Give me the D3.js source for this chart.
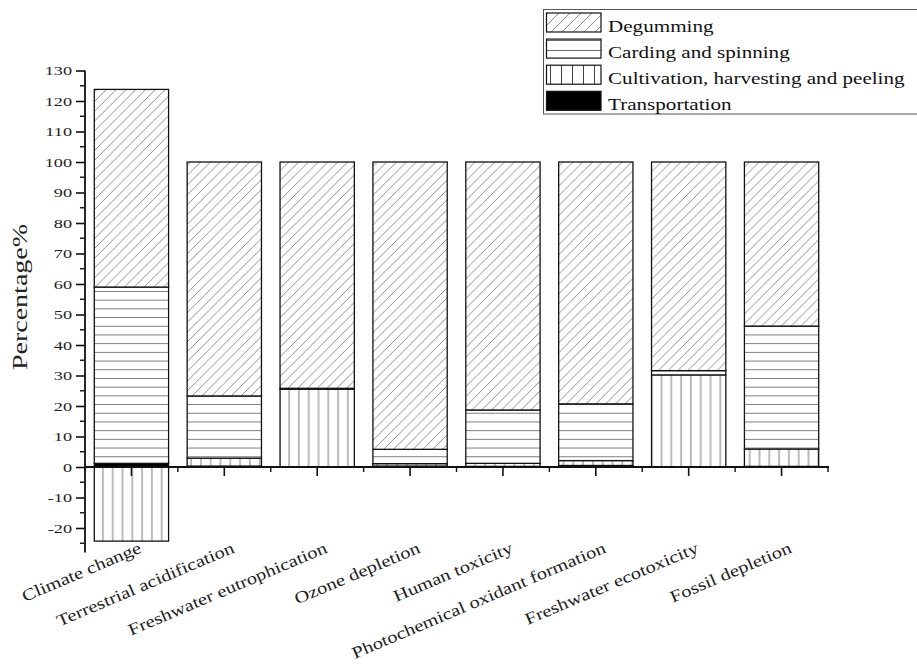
<!DOCTYPE html>
<html><head><meta charset="utf-8">
<script src="https://cdn.jsdelivr.net/npm/d3@7"></script>
<style>body{margin:0;background:#fff}svg{display:block}</style>
</head><body>
<svg id="c" width="917" height="666"></svg>
<script>
const categories = ["Climate change","Terrestrial acidification","Freshwater eutrophication","Ozone depletion","Human toxicity","Photochemical oxidant formation","Freshwater ecotoxicity","Fossil depletion"];
const seriesNames = ["Transportation","Cultivation, harvesting and peeling","Carding and spinning","Degumming"];
const transportation = [1.2, 0.3, 0.1, 0.3, 0.2, 0.5, 0.1, 0.2];
const cultivation    = [-24.3, 2.6, 25.4, 0.8, 1.0, 1.6, 30.1, 5.7];
const carding        = [57.8, 20.4, 0.3, 4.7, 17.5, 18.6, 1.4, 40.3];
const degumming      = [64.8, 76.7, 74.2, 94.2, 81.3, 79.3, 68.4, 53.8];
const yMajorTicks = [-20,-10,0,10,20,30,40,50,60,70,80,90,100,110,120,130];
const yMinorTicks = [-25,-15,-5,5,15,25,35,45,55,65,75,85,95,105,115,125];
const legendOrder = ["Degumming","Carding and spinning","Cultivation, harvesting and peeling","Transportation"];
const yTitle = "Percentage%";

const seriesValues = {
  "Transportation": transportation,
  "Cultivation, harvesting and peeling": cultivation,
  "Carding and spinning": carding,
  "Degumming": degumming
};
const table = categories.map((c,i)=>{
  const o = {cat:c};
  seriesNames.forEach(s=>o[s]=seriesValues[s][i]);
  return o;
});

const svg = d3.select("#c");
const defs = svg.append("defs");
const FONT = "Liberation Serif, Times New Roman, serif";

function makePattern(id, w, h, draw){
  const p = defs.append("pattern").attr("id",id).attr("patternUnits","userSpaceOnUse")
    .attr("width",w).attr("height",h);
  p.append("rect").attr("width",w).attr("height",h).attr("fill","#fff");
  draw(p,w,h);
}
const hatchColor = "#7a7a7a";
function diag(p,w,h){
  [[0,h,w,0],[-w,h,w,-h],[0,2*h,2*w,0]].forEach(l=>
    p.append("line").attr("x1",l[0]).attr("y1",l[1]).attr("x2",l[2]).attr("y2",l[3])
     .attr("stroke",hatchColor).attr("stroke-width",0.85));
}
makePattern("pDeg",9.8,9.8,diag);
makePattern("pCard",10,8.7,(p,w,h)=>p.append("line").attr("x1",0).attr("x2",w).attr("y1",h/2).attr("y2",h/2).attr("stroke",hatchColor).attr("stroke-width",1));
makePattern("pCult",9.8,10,(p,w,h)=>p.append("line").attr("y1",0).attr("y2",h).attr("x1",w/2).attr("x2",w/2).attr("stroke",hatchColor).attr("stroke-width",1));
makePattern("lDeg",11,11,diag);
makePattern("lCard",10,10,(p,w,h)=>p.append("line").attr("x1",0).attr("x2",w).attr("y1",0.3).attr("y2",0.3).attr("stroke","#444").attr("stroke-width",1));
makePattern("lCult",11,10,(p,w,h)=>p.append("line").attr("y1",0).attr("y2",h).attr("x1",0.5).attr("x2",0.5).attr("stroke","#444").attr("stroke-width",1));

const fills = {
  "Degumming":"url(#pDeg)",
  "Carding and spinning":"url(#pCard)",
  "Cultivation, harvesting and peeling":"url(#pCult)",
  "Transportation":"#000"
};
const legendFills = {
  "Degumming":"url(#lDeg)",
  "Carding and spinning":"url(#lCard)",
  "Cultivation, harvesting and peeling":"url(#lCult)",
  "Transportation":"#000"
};

const x = d3.scaleBand().domain(categories).range([85,828]).paddingInner(0.2).paddingOuter(0.1);
const y = d3.scaleLinear().domain([-28,130]).range([552.4,70.5]);

const stack = d3.stack().keys(seriesNames).offset(d3.stackOffsetDiverging);
const series = stack(table);

const bars = svg.append("g");
series.forEach(s=>{
  bars.selectAll(null).data(s).join("rect")
    .attr("x",d=>x(d.data.cat))
    .attr("width",x.bandwidth())
    .attr("y",d=>y(Math.max(d[0],d[1])))
    .attr("height",d=>Math.abs(y(d[0])-y(d[1])))
    .attr("fill",fills[s.key])
    .attr("stroke","#111")
    .attr("stroke-width",1.3);
});

// Y axis
const yAxisG = svg.append("g").attr("transform","translate(85,0)");
yAxisG.call(d3.axisLeft(y).tickValues(yMajorTicks).tickSize(9).tickFormat(""))
  .call(g=>g.select(".domain").remove());
yAxisG.selectAll(".tick line").attr("stroke","#111").attr("stroke-width",1.6);
yAxisG.selectAll("line.minor").data(yMinorTicks).join("line").attr("class","minor")
  .attr("x1",-5).attr("x2",0).attr("y1",d=>y(d)).attr("y2",d=>y(d))
  .attr("stroke","#111").attr("stroke-width",1.4);
yAxisG.append("line").attr("x1",0).attr("x2",0).attr("y1",y(-28)).attr("y2",y(130))
  .attr("stroke","#111").attr("stroke-width",1.8);
svg.append("g").selectAll("text").data(yMajorTicks).join("text")
  .attr("transform",d=>`translate(72,${y(d)+4.5}) scale(1.35,1)`)
  .attr("text-anchor","end").style("font-family",FONT).attr("font-size",13.5).attr("fill","#222")
  .text(d=>d);

// X axis
const xAxisG = svg.append("g").attr("transform",`translate(0,${y(0)})`);
xAxisG.call(d3.axisBottom(x).tickSize(9).tickFormat(""))
  .call(g=>g.select(".domain").remove());
xAxisG.selectAll(".tick line").attr("stroke","#111").attr("stroke-width",1.6);
const xr = x.range();
xAxisG.selectAll("line.minor").data(d3.range(categories.length+1)).join("line").attr("class","minor")
  .attr("x1",k=>xr[0]+k*x.step()).attr("x2",k=>xr[0]+k*x.step()).attr("y1",0).attr("y2",5)
  .attr("stroke","#111").attr("stroke-width",1.4);
xAxisG.append("line").attr("x1",xr[0]).attr("x2",xr[1]+1).attr("y1",0).attr("y2",0)
  .attr("stroke","#111").attr("stroke-width",1.8);

svg.append("g").selectAll("text").data(categories).join("text")
  .attr("transform",d=>`translate(${x(d)+x.bandwidth()/2+11},552) rotate(-23) scale(1.24,1)`)
  .attr("text-anchor","end").style("font-family",FONT).attr("font-size",16.5).attr("fill","#222")
  .text(d=>d);

svg.append("text")
  .attr("transform","translate(26.5,297) rotate(-90) scale(1.4,1)")
  .attr("text-anchor","middle").style("font-family",FONT).attr("font-size",20).attr("fill","#222")
  .text(yTitle);

// Legend
const lg = svg.append("g");
lg.append("rect").attr("x",543.5).attr("y",9.5).attr("width",385).attr("height",104.5)
  .attr("fill","#fff").attr("stroke","#555").attr("stroke-width",1);
legendOrder.forEach((name,i)=>{
  const top = 13 + i*26.1;
  lg.append("rect").attr("x",546.5).attr("y",top).attr("width",54.5).attr("height",19)
    .attr("fill",legendFills[name]).attr("stroke","#111").attr("stroke-width",1.2);
  lg.append("text").attr("transform",`translate(608,${top+18.5}) scale(1.28,1)`)
    .style("font-family",FONT).attr("font-size",16.5).attr("fill","#111").text(name);
});
</script>
</body></html>
